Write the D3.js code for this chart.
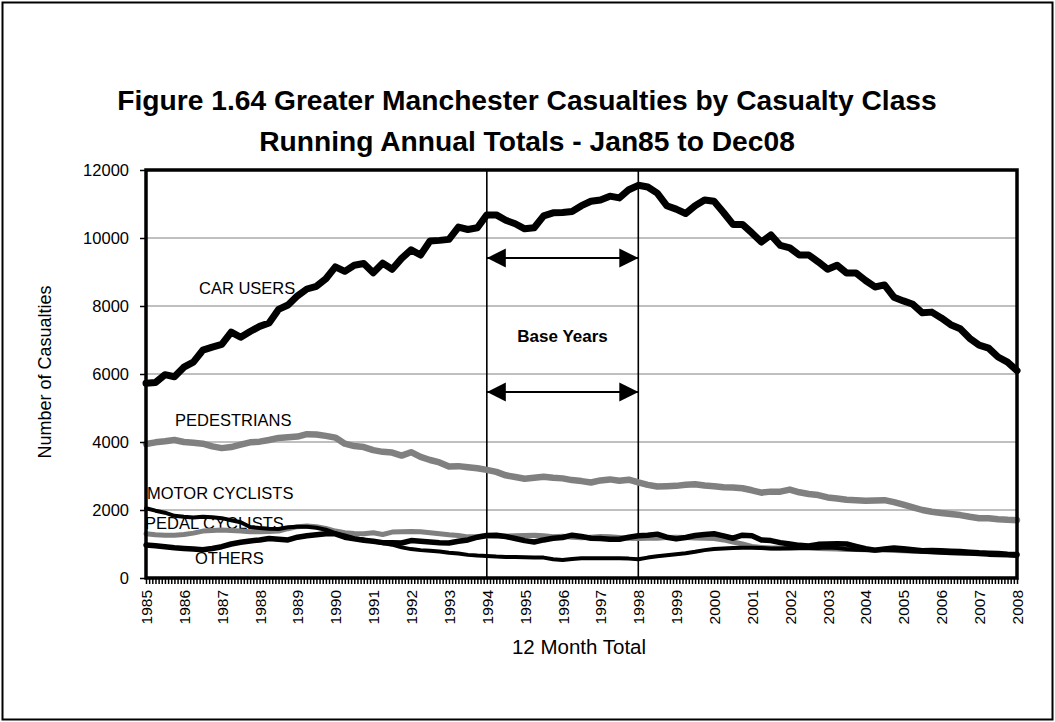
<!DOCTYPE html>
<html>
<head>
<meta charset="utf-8">
<script src="https://cdn.jsdelivr.net/npm/d3@7"></script>
<style>
  body { margin: 0; background: #fff; }
  svg { display: block; font-family: "Liberation Sans", Arial, sans-serif; }
</style>
</head>
<body>
<svg id="chart" width="1055" height="722"></svg>
<script>
// year labels on the category axis (one per January)
var yearLabels = ["1985", "1986", "1987", "1988", "1989", "1990", "1991", "1992", "1993", "1994", "1995", "1996",
    "1997", "1998", "1999", "2000", "2001", "2002", "2003", "2004", "2005", "2006", "2007", "2008"];
// month offsets from the first point, sampled quarterly
var quarterIndex = d3.range(0, 277, 3);
var yTicks = [0, 2000, 4000, 6000, 8000, 10000, 12000];
var baseYears = ["1994", "1998"];

var carUsers = [5730, 5750, 5980, 5920, 6200, 6350, 6700, 6790, 6870, 7230,
    7080, 7250, 7400, 7500, 7900, 8030, 8300, 8500, 8580, 8800,
    9150, 9020, 9200, 9250, 8980, 9260, 9080, 9400, 9650, 9500,
    9910, 9930, 9960, 10320, 10250, 10300, 10680, 10680, 10520, 10420,
    10270, 10300, 10650, 10740, 10750, 10780, 10950, 11080, 11120, 11230,
    11180, 11420, 11550, 11500, 11320, 10950, 10850, 10720, 10950, 11120,
    11080, 10750, 10400, 10400, 10150, 9880, 10090, 9780, 9710, 9500,
    9500, 9300, 9080, 9200, 8970, 8970, 8750, 8560, 8620, 8260,
    8150, 8050, 7800, 7820, 7650, 7450, 7330, 7050, 6850, 6760,
    6500, 6350, 6100];
var pedestrians = [3940, 3990, 4020, 4060, 4000, 3980, 3950, 3870, 3820, 3850,
    3920, 3990, 4010, 4060, 4120, 4140, 4160, 4230, 4220, 4180,
    4130, 3950, 3880, 3850, 3760, 3710, 3690, 3600, 3700, 3560,
    3470, 3400, 3280, 3290, 3260, 3230, 3180, 3120, 3020, 2970,
    2920, 2950, 2980, 2950, 2930, 2880, 2850, 2810, 2870, 2900,
    2860, 2890, 2810, 2740, 2690, 2700, 2710, 2740, 2760, 2720,
    2700, 2670, 2660, 2640, 2580, 2510, 2540, 2540, 2600, 2520,
    2470, 2440, 2370, 2340, 2300, 2290, 2270, 2280, 2290, 2230,
    2160, 2080, 2000, 1950, 1910, 1880, 1850, 1800, 1760, 1760,
    1730, 1710, 1700];
var motorCyclists = [2050, 1980, 1920, 1830, 1800, 1780, 1800, 1790, 1760, 1700,
    1640, 1500, 1470, 1450, 1440, 1490, 1510, 1510, 1480, 1420,
    1320, 1250, 1170, 1130, 1070, 1030, 980, 900, 850, 820,
    800, 780, 740, 720, 680, 660, 650, 630, 620, 620,
    610, 600, 600, 550, 530, 560, 580, 580, 580, 580,
    580, 570, 550, 600, 640, 670, 700, 730, 770, 820,
    850, 870, 880, 890, 890, 880, 870, 870, 880, 880,
    890, 880, 900, 880, 850, 830, 820, 810, 830, 820,
    800, 790, 770, 760, 740, 730, 720, 710, 700, 680,
    670, 660, 650];
var pedalCyclists = [1300, 1270, 1260, 1260, 1280, 1320, 1380, 1400, 1410, 1400,
    1380, 1360, 1360, 1370, 1380, 1450, 1510, 1530, 1510, 1460,
    1380, 1330, 1310, 1300, 1330, 1280, 1350, 1360, 1370, 1360,
    1330, 1300, 1270, 1250, 1210, 1220, 1240, 1230, 1230, 1240,
    1250, 1260, 1240, 1210, 1230, 1200, 1180, 1200, 1220, 1210,
    1190, 1170, 1160, 1170, 1170, 1190, 1200, 1190, 1180, 1170,
    1160, 1120, 1060, 1000, 930, 900, 880, 880, 870, 880,
    880, 870, 860, 850, 840, 840, 830, 820, 820, 810,
    800, 790, 780, 770, 760, 750, 740, 730, 720, 710,
    700, 690, 680];
var others = [970, 950, 920, 890, 870, 850, 830, 870, 920, 1000,
    1050, 1090, 1120, 1160, 1140, 1120, 1200, 1240, 1270, 1300,
    1300, 1200, 1150, 1110, 1080, 1040, 1040, 1030, 1100, 1080,
    1060, 1040, 1030, 1080, 1120, 1200, 1250, 1260, 1220, 1160,
    1100, 1060, 1120, 1170, 1190, 1260, 1220, 1170, 1160, 1140,
    1140, 1200, 1240, 1260, 1290, 1200, 1150, 1190, 1250, 1280,
    1300, 1240, 1170, 1260, 1240, 1120, 1100, 1040, 1000, 960,
    940, 990, 1000, 1010, 1000, 930, 860, 820, 850, 880,
    860, 830, 800, 810, 800, 790, 780, 760, 740, 730,
    720, 700, 690];

var svg = d3.select("#chart");
var margin = { top: 170, right: 38, bottom: 144, left: 146 };
var width = 1055 - margin.left - margin.right, height = 722 - margin.top - margin.bottom;
var lastMonth = (yearLabels.length - 1) * 12;

var x = d3.scaleLinear().domain([0, lastMonth]).range([0, width]);
var y = d3.scaleLinear().domain([0, 12000]).range([height, 0]);
var yearMonth = function (label) { return yearLabels.indexOf(label) * 12; };

// outer frame
svg.append("rect")
    .attr("x", 2.5).attr("y", 2.5)
    .attr("width", 1050).attr("height", 717)
    .attr("fill", "none").attr("stroke", "#000").attr("stroke-width", 2);

svg.append("text")
    .attr("x", 527).attr("y", 110)
    .attr("text-anchor", "middle")
    .attr("font-size", 28.2).attr("font-weight", "bold")
    .text("Figure 1.64 Greater Manchester Casualties by Casualty Class");
svg.append("text")
    .attr("x", 527).attr("y", 151)
    .attr("text-anchor", "middle")
    .attr("font-size", 28.2).attr("font-weight", "bold")
    .text("Running Annual Totals - Jan85 to Dec08");

var g = svg.append("g").attr("transform", "translate(" + margin.left + "," + margin.top + ")");

// gridlines
g.selectAll(".grid")
    .data(yTicks.filter(function (d) { return d > 0 && d < 12000; }))
    .enter().append("line")
    .attr("x1", 0).attr("x2", width)
    .attr("y1", function (d) { return y(d); }).attr("y2", function (d) { return y(d); })
    .attr("stroke", "#808080").attr("stroke-width", 1);

// series labels sit under the lines
var labels = [
    { text: "CAR USERS", x: 53, y: 124 },
    { text: "PEDESTRIANS", x: 29, y: 256 },
    { text: "MOTOR CYCLISTS", x: 1, y: 329 },
    { text: "PEDAL CYCLISTS", x: -1, y: 359 },
    { text: "OTHERS", x: 49, y: 394 }
];
g.selectAll(".lbl")
    .data(labels)
    .enter().append("text")
    .attr("x", function (d) { return d.x; })
    .attr("y", function (d) { return d.y; })
    .attr("font-size", 16.5)
    .text(function (d) { return d.text; });

// base year markers
g.selectAll(".base")
    .data(baseYears)
    .enter().append("line")
    .attr("x1", function (d) { return x(yearMonth(d)); })
    .attr("x2", function (d) { return x(yearMonth(d)); })
    .attr("y1", 0).attr("y2", height)
    .attr("stroke", "#000").attr("stroke-width", 1.6);

var defs = svg.append("defs");
["start", "end"].forEach(function (k) {
    defs.append("marker")
        .attr("id", "arrow-" + k)
        .attr("viewBox", "0 0 10 10")
        .attr("refX", 10).attr("refY", 5)
        .attr("markerUnits", "userSpaceOnUse")
        .attr("markerWidth", 19).attr("markerHeight", 20)
        .attr("orient", k === "end" ? "auto" : "auto-start-reverse")
        .append("path")
        .attr("d", "M0,0L10,5L0,10Z")
        .attr("fill", "#000");
});
[88, 222].forEach(function (ay) {
    g.append("line")
        .attr("x1", x(yearMonth(baseYears[0]))).attr("x2", x(yearMonth(baseYears[1])))
        .attr("y1", ay).attr("y2", ay)
        .attr("stroke", "#000").attr("stroke-width", 2)
        .attr("marker-start", "url(#arrow-start)")
        .attr("marker-end", "url(#arrow-end)");
});
g.append("text")
    .attr("x", (x(yearMonth(baseYears[0])) + x(yearMonth(baseYears[1]))) / 2)
    .attr("y", 172)
    .attr("text-anchor", "middle")
    .attr("font-size", 17).attr("font-weight", "bold")
    .text("Base Years");

// series
var series = [
    { values: pedestrians, color: "#808080", w: 6.5 },
    { values: pedalCyclists, color: "#808080", w: 5 },
    { values: motorCyclists, color: "#000", w: 4 },
    { values: others, color: "#000", w: 5.5 },
    { values: carUsers, color: "#000", w: 7 }
];
var line = d3.line()
    .x(function (d, i) { return x(quarterIndex[i]); })
    .y(function (d) { return y(d); });
g.selectAll(".series")
    .data(series)
    .enter().append("path")
    .attr("fill", "none")
    .attr("stroke", function (d) { return d.color; })
    .attr("stroke-width", function (d) { return d.w; })
    .attr("stroke-linejoin", "round")
    .attr("stroke-linecap", "round")
    .attr("d", function (d) { return line(d.values); });

// plot frame
g.append("rect")
    .attr("width", width).attr("height", height)
    .attr("fill", "none").attr("stroke", "#000").attr("stroke-width", 3.5);

// axes
var yAxis = g.append("g")
    .call(d3.axisLeft(y).tickValues(yTicks).tickSize(6).tickPadding(11).tickFormat(d3.format("d")));
yAxis.select(".domain").remove();
yAxis.selectAll("line").attr("stroke-width", 1.5);
yAxis.selectAll("text").attr("font-size", 16.5).attr("fill", "#000")
    .style("font-family", "'Liberation Sans', Arial, sans-serif");

var xAxis = g.append("g")
    .attr("transform", "translate(0," + height + ")")
    .call(d3.axisBottom(x)
        .tickValues(d3.range(0, lastMonth + 1))
        .tickSize(6)
        .tickFormat(function (d) { return d % 12 === 0 ? yearLabels[d / 12] : ""; }));
xAxis.select(".domain").remove();
xAxis.selectAll("line").attr("stroke-width", 1.5);
xAxis.selectAll("text")
    .attr("font-size", 15.5).attr("fill", "#000")
    .style("font-family", "'Liberation Sans', Arial, sans-serif")
    .attr("text-anchor", "end")
    .attr("transform", "rotate(-90)")
    .attr("x", -12).attr("y", 0).attr("dy", "0.35em");

svg.append("text")
    .attr("x", 579).attr("y", 654)
    .attr("text-anchor", "middle")
    .attr("font-size", 20.5)
    .text("12 Month Total");
svg.append("text")
    .attr("transform", "translate(51,372) rotate(-90)")
    .attr("text-anchor", "middle")
    .attr("font-size", 18)
    .text("Number of Casualties");
</script>
</body>
</html>
